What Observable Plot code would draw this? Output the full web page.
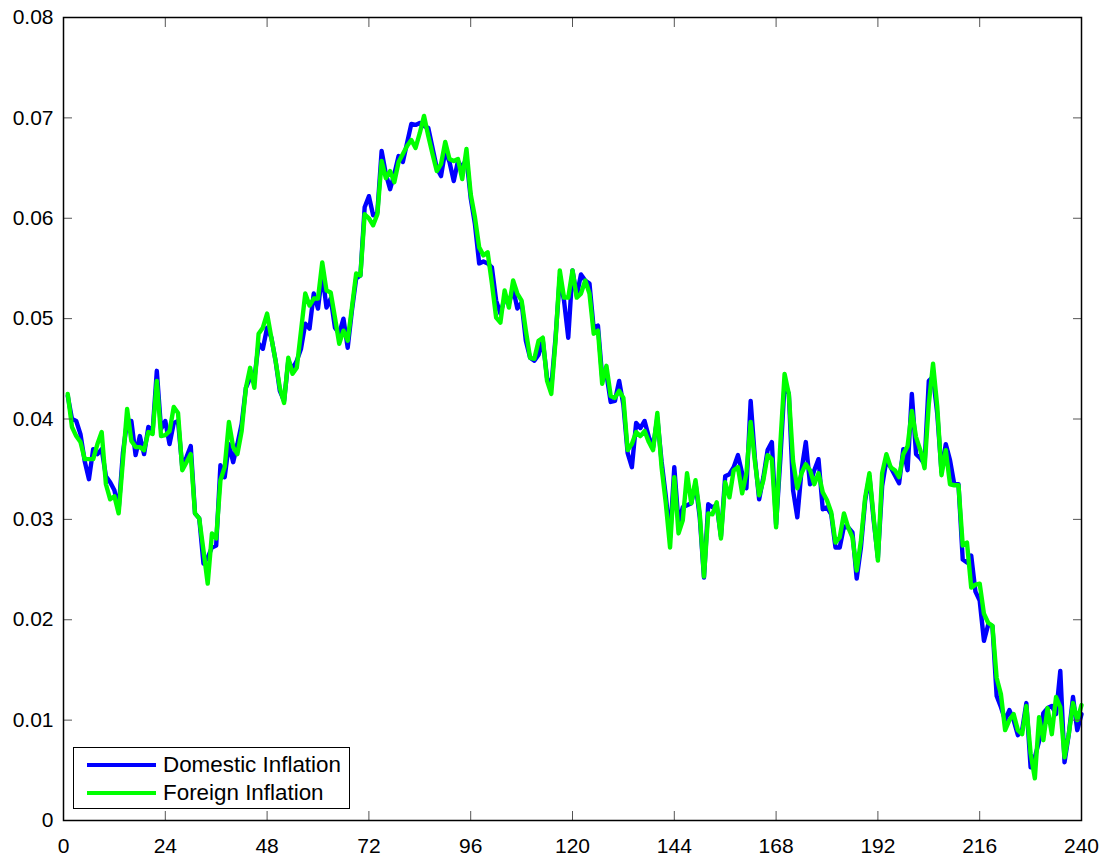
<!DOCTYPE html>
<html>
<head>
<meta charset="utf-8">
<script src="https://cdn.jsdelivr.net/npm/d3@7"></script>
<script src="https://cdn.jsdelivr.net/npm/@observablehq/plot@0.6"></script>
<style>
  body { margin: 0; background: #fff; }
  #wrap { position: relative; width: 1108px; height: 858px; font-family: "Liberation Sans", Arial, sans-serif; }
  #legend { position: absolute; left: 73px; top: 747px; width: 277px; height: 62px; border: 1px solid #000; background: #fff; box-sizing: border-box; }
  .item { position: absolute; left: 13px; height: 24px; display: flex; align-items: center; font-size: 22.4px; color: #000; white-space: nowrap; }
  .swatch { width: 69px; height: 4px; margin-right: 7px; }
</style>
</head>
<body>
<div id="wrap"></div>
<script>
const xTicks = [0, 24, 48, 72, 96, 120, 144, 168, 192, 216, 240];
const yTicks = [0, 0.01, 0.02, 0.03, 0.04, 0.05, 0.06, 0.07, 0.08];
const seriesNames = ["Domestic Inflation", "Foreign Inflation"];
const seriesColors = ["#0000ff", "#00ff00"];

const domestic = [
0.0423,0.0400,0.0398,0.0385,0.0358,0.0340,0.0370,0.0365,0.0370,0.0343,
0.0337,0.0329,0.0310,0.0366,0.0398,0.0398,0.0364,0.0383,0.0365,0.0392,
0.0387,0.0448,0.0390,0.0398,0.0375,0.0396,0.0398,0.0352,0.0362,0.0373,
0.0306,0.0301,0.0256,0.0262,0.0272,0.0274,0.0354,0.0342,0.0375,0.0357,
0.0375,0.0395,0.0431,0.0441,0.0440,0.0475,0.0470,0.0491,0.0481,0.0458,
0.0428,0.0418,0.0458,0.0450,0.0458,0.0470,0.0495,0.0490,0.0525,0.0510,
0.0545,0.0511,0.0520,0.0491,0.0485,0.0500,0.0471,0.0508,0.0540,0.0543,
0.0611,0.0622,0.0603,0.0606,0.0667,0.0644,0.0629,0.0644,0.0662,0.0656,
0.0675,0.0694,0.0693,0.0695,0.0692,0.0690,0.0670,0.0650,0.0642,0.0667,
0.0656,0.0637,0.0657,0.0650,0.0660,0.0620,0.0594,0.0555,0.0557,0.0555,
0.0551,0.0518,0.0505,0.0520,0.0515,0.0530,0.0510,0.0516,0.0478,0.0461,
0.0458,0.0464,0.0478,0.0441,0.0432,0.0481,0.0541,0.0518,0.0481,0.0548,
0.0523,0.0544,0.0538,0.0535,0.0490,0.0493,0.0442,0.0445,0.0417,0.0418,
0.0438,0.0414,0.0366,0.0352,0.0396,0.0391,0.0398,0.0382,0.0372,0.0401,
0.0358,0.0323,0.0282,0.0352,0.0296,0.0312,0.0314,0.0316,0.0336,0.0302,
0.0242,0.0315,0.0312,0.0314,0.0283,0.0343,0.0345,0.0352,0.0364,0.0346,
0.0331,0.0418,0.0361,0.0320,0.0342,0.0369,0.0377,0.0295,0.0360,0.0435,
0.0425,0.0329,0.0302,0.0349,0.0377,0.0335,0.0349,0.0360,0.0310,0.0312,
0.0305,0.0272,0.0272,0.0293,0.0292,0.0287,0.0241,0.0272,0.0319,0.0343,
0.0299,0.0262,0.0333,0.0359,0.0352,0.0344,0.0336,0.0370,0.0349,0.0425,
0.0365,0.0361,0.0355,0.0438,0.0442,0.0405,0.0347,0.0375,0.0359,0.0335,
0.0335,0.0260,0.0257,0.0264,0.0228,0.0219,0.0179,0.0195,0.0194,0.0124,
0.0113,0.0100,0.0110,0.0100,0.0085,0.0090,0.0117,0.0053,0.0063,0.0079,
0.0107,0.0112,0.0114,0.0106,0.0149,0.0058,0.0086,0.0123,0.0090,0.0106
];

const foreign = [
0.0425,0.0392,0.0383,0.0377,0.0360,0.0360,0.0360,0.0375,0.0387,0.0335,
0.0320,0.0323,0.0306,0.0358,0.0410,0.0378,0.0372,0.0372,0.0369,0.0387,
0.0385,0.0438,0.0383,0.0384,0.0388,0.0412,0.0406,0.0349,0.0357,0.0365,
0.0306,0.0301,0.0269,0.0236,0.0286,0.0281,0.0339,0.0352,0.0397,0.0372,
0.0365,0.0388,0.0431,0.0451,0.0431,0.0485,0.0491,0.0505,0.0481,0.0458,
0.0431,0.0416,0.0461,0.0445,0.0451,0.0488,0.0525,0.0513,0.0520,0.0520,
0.0556,0.0528,0.0526,0.0501,0.0475,0.0488,0.0478,0.0511,0.0545,0.0543,
0.0604,0.0600,0.0593,0.0604,0.0657,0.0640,0.0647,0.0636,0.0656,0.0664,
0.0672,0.0678,0.0670,0.0685,0.0702,0.0682,0.0664,0.0647,0.0654,0.0676,
0.0659,0.0657,0.0659,0.0639,0.0669,0.0624,0.0601,0.0571,0.0563,0.0566,
0.0535,0.0501,0.0496,0.0528,0.0511,0.0538,0.0525,0.0518,0.0488,0.0461,
0.0460,0.0478,0.0481,0.0438,0.0425,0.0478,0.0548,0.0521,0.0521,0.0548,
0.0521,0.0525,0.0538,0.0525,0.0485,0.0488,0.0435,0.0453,0.0423,0.0421,
0.0428,0.0421,0.0369,0.0375,0.0387,0.0383,0.0388,0.0377,0.0369,0.0406,
0.0352,0.0316,0.0272,0.0342,0.0286,0.0299,0.0346,0.0316,0.0339,0.0306,
0.0243,0.0306,0.0305,0.0317,0.0281,0.0337,0.0322,0.0349,0.0352,0.0326,
0.0346,0.0397,0.0358,0.0324,0.0339,0.0364,0.0360,0.0292,0.0375,0.0445,
0.0425,0.0358,0.0331,0.0346,0.0355,0.0349,0.0335,0.0346,0.0327,0.0319,
0.0307,0.0277,0.0282,0.0306,0.0292,0.0282,0.0249,0.0279,0.0322,0.0346,
0.0302,0.0259,0.0346,0.0365,0.0352,0.0349,0.0342,0.0365,0.0373,0.0408,
0.0382,0.0369,0.0351,0.0415,0.0455,0.0412,0.0344,0.0369,0.0335,0.0334,
0.0334,0.0274,0.0277,0.0232,0.0235,0.0236,0.0206,0.0197,0.0194,0.0142,
0.0126,0.0090,0.0100,0.0106,0.0090,0.0086,0.0114,0.0067,0.0042,0.0103,
0.0080,0.0112,0.0086,0.0123,0.0113,0.0063,0.0086,0.0117,0.0100,0.0115
];

const periods = d3.range(1, domestic.length + 1);
const rows = periods.map((t, i) => ({t, domestic: domestic[i], foreign: foreign[i]}));
const fmtY = d => d === 0 ? "0" : d.toFixed(2);
const tickColor = "#555";

const chart = Plot.plot({
  width: 1108,
  height: 858,
  marginLeft: 63,
  marginRight: 27,
  marginTop: 17,
  marginBottom: 38,
  style: {fontFamily: "'Liberation Sans', Arial, sans-serif", fontSize: "21px", background: "#fff", color: "#000", overflow: "visible"},
  x: {domain: [0, 240]},
  y: {domain: [0, 0.08]},
  marks: [
    Plot.line(rows, {x: "t", y: "domestic", stroke: seriesColors[0], strokeWidth: 4.4, strokeLinejoin: "round"}),
    Plot.line(rows, {x: "t", y: "foreign", stroke: seriesColors[1], strokeWidth: 4.4, strokeLinejoin: "round"}),
    Plot.axisY(yTicks, {anchor: "left", tickSize: 9, dx: 9, fill: "none", stroke: tickColor, label: null}),
    Plot.axisY(yTicks, {anchor: "right", tickSize: 9, dx: -9, fill: "none", stroke: tickColor, label: null}),
    Plot.axisX(xTicks, {anchor: "bottom", tickSize: 9, dy: -9, fill: "none", stroke: tickColor, label: null}),
    Plot.axisX(xTicks, {anchor: "top", tickSize: 9, dy: 9, fill: "none", stroke: tickColor, label: null}),
    Plot.axisY(yTicks, {anchor: "left", tickSize: 0, tickPadding: 10, tickFormat: fmtY, label: null}),
    Plot.axisX(xTicks, {anchor: "bottom", tickSize: 0, tickPadding: 18, label: null}),
    Plot.frame({stroke: "#000", strokeWidth: 1.5})
  ]
});

const wrap = document.getElementById("wrap");
wrap.appendChild(chart);

const legend = document.createElement("div");
legend.id = "legend";
seriesNames.forEach((name, i) => {
  const item = document.createElement("div");
  item.className = "item";
  item.style.top = (i === 0 ? 5 : 33) + "px";
  const sw = document.createElement("div");
  sw.className = "swatch";
  sw.style.background = seriesColors[i];
  const label = document.createElement("span");
  label.textContent = name;
  item.appendChild(sw);
  item.appendChild(label);
  legend.appendChild(item);
});
wrap.appendChild(legend);
</script>
</body>
</html>
